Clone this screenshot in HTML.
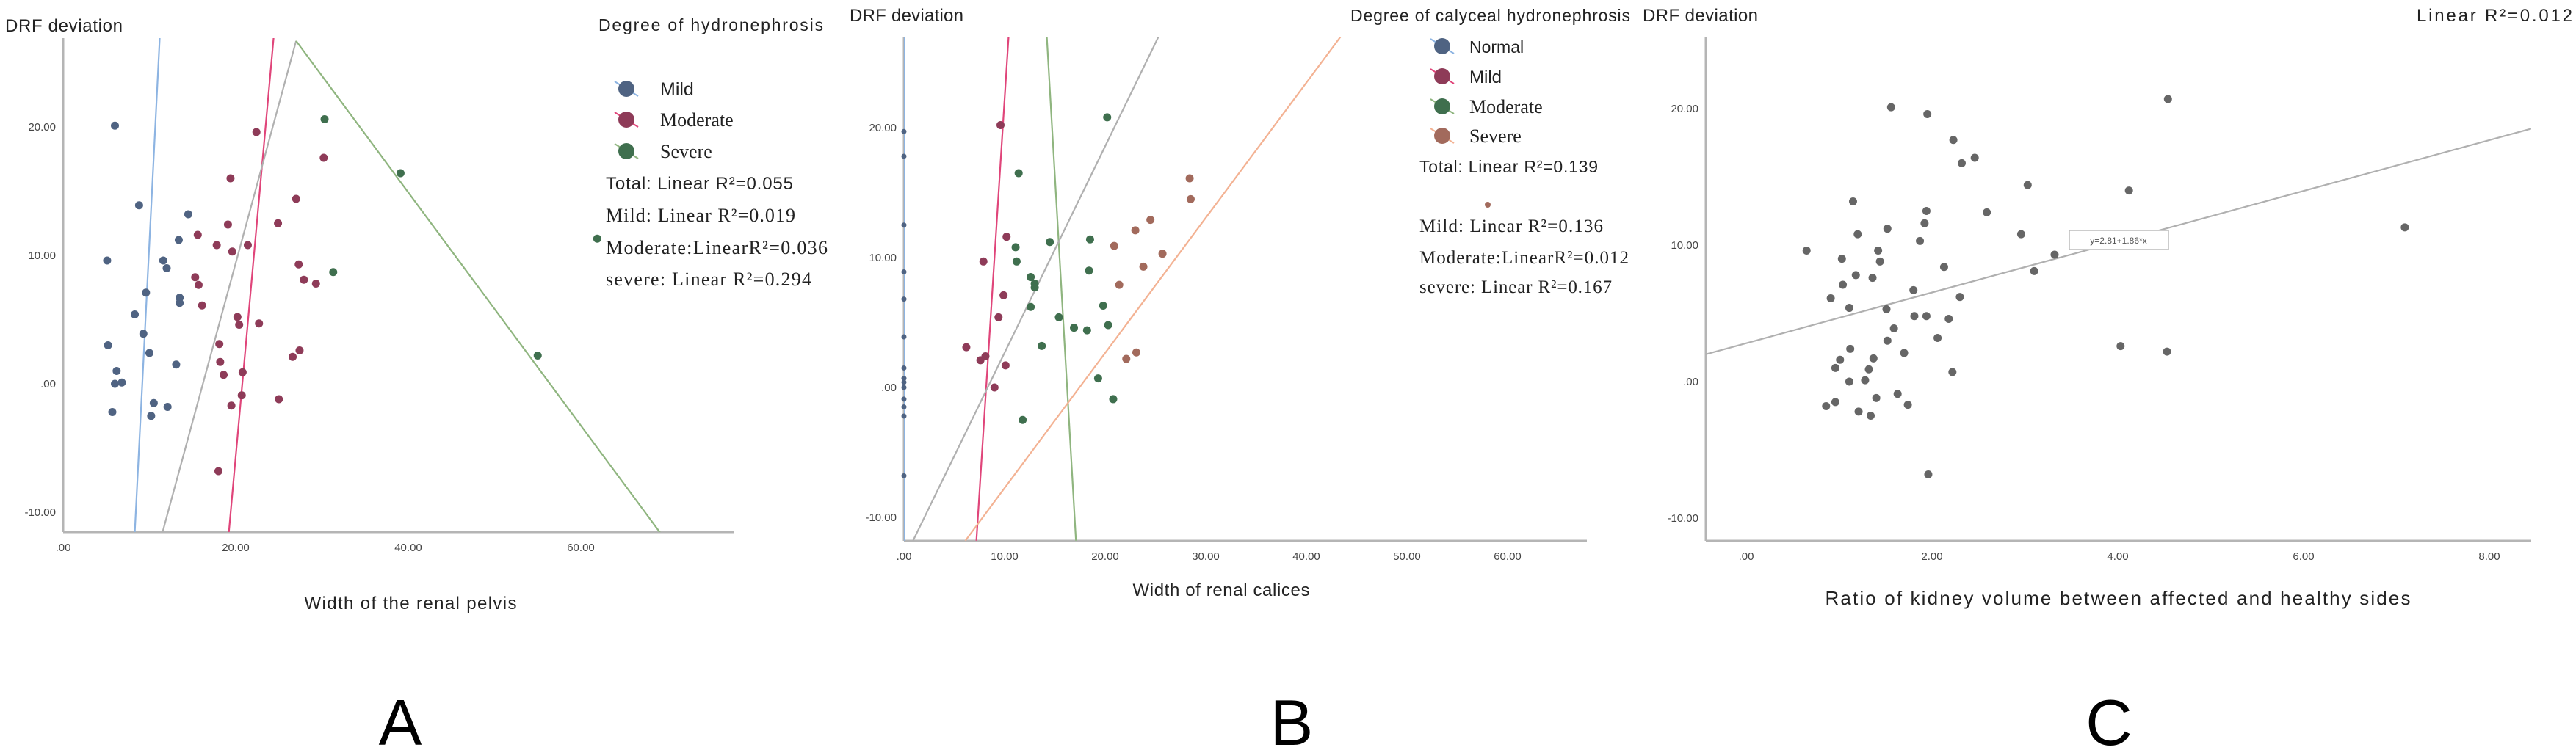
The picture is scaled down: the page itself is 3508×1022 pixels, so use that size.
<!DOCTYPE html>
<html><head><meta charset="utf-8"><style>
html,body{margin:0;padding:0;background:#fff;}
svg{display:block;font-family:"Liberation Sans",sans-serif;}
</style></head><body>
<svg id="fig" width="3508" height="1022" viewBox="0 0 3508 1022" xmlns="http://www.w3.org/2000/svg">
<defs>
<clipPath id="clipA"><rect x="86" y="52" width="913" height="673"/></clipPath>
<clipPath id="clipB"><rect x="1231" y="51" width="930" height="686"/></clipPath>
<clipPath id="clipC"><rect x="2323" y="51" width="1124" height="686"/></clipPath>
</defs>
<g id="panelA"></g>
<g id="panelB"></g>
<g id="panelC"></g>
</svg>
<script>
// ---------- Panel A data ----------
const aMildX = [6.0,8.8,14.5,13.4,5.1,11.6,12.0,9.6,13.5,13.5,8.3,9.3,5.2,10.0,13.1,6.2,6.0,6.8,10.5,12.1,5.7,10.2];
const aMildY = [20.1,13.9,13.2,11.2,9.6,9.6,9.0,7.1,6.7,6.3,5.4,3.9,3.0,2.4,1.5,1.0,0,0.1,-1.5,-1.8,-2.2,-2.5];
const aModX = [22.4,30.2,19.4,27.0,19.1,24.9,15.6,17.8,21.4,19.6,27.3,15.3,15.7,27.9,29.3,16.1,20.2,20.4,22.7,18.1,27.4,26.6,18.2,18.6,20.8,20.7,25.0,19.5,18.0];
const aModY = [19.6,17.6,16.0,14.4,12.4,12.5,11.6,10.8,10.8,10.3,9.3,8.3,7.7,8.1,7.8,6.1,5.2,4.6,4.7,3.1,2.6,2.1,1.7,0.7,0.9,-0.9,-1.2,-1.7,-6.8];
const aSevX = [30.3,39.1,61.9,31.3,55.0];
const aSevY = [20.6,16.4,11.3,8.7,2.2];
// fit lines: [x1,y1,x2,y2] in data units
const aLineMild = [8.3,-11.6,11.2,27.0];
const aLineMod = [19.2,-11.6,24.4,27.0];
const aLineTotal = [11.5,-11.6,27.0,26.7];
const aLineSev = [27.0,26.7,69.2,-11.6];
const aXTicks = [0,20,40,60];
const aXTickLabels = [".00","20.00","40.00","60.00"];
const aYTicks = [20,10,0,-10];
const aYTickLabels = ["20.00","10.00",".00","-10.00"];

// ---------- Panel B data ----------
const bNormX = [0,0,0,0,0,0,0,0,0,0,0,0,0,0];
const bNormY = [19.7,17.8,12.5,8.9,6.8,3.9,1.5,0.7,0.4,0,-0.9,-1.5,-2.2,-6.8];
const bMildX = [9.6,10.2,7.9,9.9,9.4,6.2,7.6,8.1,10.1,9.0];
const bMildY = [20.2,11.6,9.7,7.1,5.4,3.1,2.1,2.4,1.7,0];
const bModX = [20.2,11.4,11.1,14.5,18.5,11.2,12.6,13.0,13.0,18.4,12.6,19.8,15.4,16.9,18.2,20.3,13.7,19.3,20.8,11.8];
const bModY = [20.8,16.5,10.8,11.2,11.4,9.7,8.5,8.0,7.7,9.0,6.2,6.3,5.4,4.6,4.4,4.8,3.2,0.7,-0.9,-2.5];
const bSevX = [28.4,28.5,24.5,23.0,25.7,20.9,23.8,21.4,23.1,22.1];
const bSevY = [16.1,14.5,12.9,12.1,10.3,10.9,9.3,7.9,2.7,2.2];
const bLineNorm = [0,-11.8,0,27.0];
const bLineMild = [7.2,-11.8,10.4,27.0];
const bLineMod = [14.2,27.0,17.1,-11.8];
const bLineTotal = [0.9,-11.8,25.3,27.0];
const bLineSev = [6.1,-11.8,43.4,27.0];
const bXTicks = [0,10,20,30,40,50,60];
const bXTickLabels = [".00","10.00","20.00","30.00","40.00","50.00","60.00"];
const bYTicks = [20,10,0,-10];
const bYTickLabels = ["20.00","10.00",".00","-10.00"];

// ---------- Panel C data ----------
const cX = [0.65,1.03,0.91,1.04,1.15,1.2,1.18,1.11,1.42,1.44,1.36,1.52,1.51,1.12,1.01,0.96,1.11,1.28,1.32,1.37,1.52,1.59,1.70,1.80,1.81,1.87,1.92,1.94,1.94,1.56,1.95,2.23,2.46,2.32,2.13,2.30,2.18,2.06,2.22,2.59,3.03,2.96,3.10,3.32,1.63,1.74,1.40,1.21,1.34,0.86,0.96,1.96,4.12,4.54,4.03,4.53,7.09];
const cY = [9.6,9.0,6.1,7.1,13.2,10.8,7.8,5.4,9.6,8.8,7.6,11.2,5.3,2.4,1.6,1.0,0,0.1,0.9,1.7,3.0,3.9,2.1,6.7,4.8,10.3,11.6,12.5,4.8,20.1,19.6,17.7,16.4,16.0,8.4,6.2,4.6,3.2,0.7,12.4,14.4,10.8,8.1,9.3,-0.9,-1.7,-1.2,-2.2,-2.5,-1.8,-1.5,-6.8,14.0,20.7,2.6,2.2,11.3];
const cFit = [2.81,1.86]; // intercept, slope
const cFitRange = [-0.45,8.45];
const cXTicks = [0,2,4,6,8];
const cXTickLabels = [".00","2.00","4.00","6.00","8.00"];
const cYTicks = [20,10,0,-10];
const cYTickLabels = ["20.00","10.00",".00","-10.00"];

const NS = "http://www.w3.org/2000/svg";
function mk(tag, attrs, parent, text){
  const e = document.createElementNS(NS, tag);
  for (const k in attrs) e.setAttribute(k, attrs[k]);
  if (text !== undefined) e.textContent = text;
  parent.appendChild(e);
  return e;
}
function lin(d0,d1,r0,r1){ return v => r0 + (v-d0)*(r1-r0)/(d1-d0); }

function axes(g, P, xT, xTL, yT, yTL){
  const ya = mk('line',{x1:P.left,y1:P.top,x2:P.left,y2:P.bottom,stroke:'#b5b5b5','stroke-width':3},g);
  
  
  const xa = mk('line',{x1:P.left,y1:P.bottom,x2:P.right,y2:P.bottom,stroke:'#b5b5b5','stroke-width':3},g);
  
  
  xT.forEach((v,i)=>{
    const t = mk('text',{x:P.sx(v),y:P.bottom+26,'text-anchor':'middle','font-size':15,fill:'#444'},g,xTL[i]);
    
    
  });
  yT.forEach((v,i)=>{
    const t = mk('text',{x:P.left-10,y:P.sy(v)+5,'text-anchor':'end','font-size':15,fill:'#444'},g,yTL[i]);
    
    
  });
}
function pts(g, P, xs, ys, color, name, r){
  xs.forEach((v,i)=>{
    const c = mk('circle',{cx:P.sx(v),cy:P.sy(ys[i]),r:r||5.5,fill:color},g);
    
    
  });
}
function fitLine(g, P, seg, color, name, clip){
  const l = mk('line',{x1:P.sx(seg[0]),y1:P.sy(seg[1]),x2:P.sx(seg[2]),y2:P.sy(seg[3]),stroke:color,'stroke-width':2.2,'clip-path':clip},g);
  
  
}
function txt(g, attrs, s, name){
  const t = mk('text',attrs,g,s);
  
  
  return t;
}
function legendMarker(g, x, y, color, lineColor){
  const l = mk('line',{x1:x-16,y1:y-10,x2:x+16,y2:y+10,stroke:lineColor,'stroke-width':2},g);
  
  
  const c = mk('circle',{cx:x,cy:y,r:11,fill:color},g);
  
  
}

// ---------- Panel A ----------
(function(){
  const g = document.getElementById('panelA');
  const P = {left:86,right:999,top:52,bottom:725,sx:lin(0,20,86,321),sy:lin(0,10,523,348)};
  axes(g,P,aXTicks,aXTickLabels,aYTicks,aYTickLabels);
  fitLine(g,P,aLineMild,'#8db4e2','fit-line-mild','url(#clipA)');
  fitLine(g,P,aLineMod,'#e0457a','fit-line-moderate','url(#clipA)');
  fitLine(g,P,aLineTotal,'#b0b0b0','fit-line-total','url(#clipA)');
  fitLine(g,P,aLineSev,'#8fb57f','fit-line-severe','url(#clipA)');
  pts(g,P,aMildX,aMildY,'#4f6382','point-mild');
  pts(g,P,aModX,aModY,'#8e3b58','point-moderate');
  pts(g,P,aSevX,aSevY,'#3f6f4e','point-severe');
  txt(g,{x:7,y:43,'font-size':24,fill:'#222',textLength:160},'DRF deviation','y-axis-title');
  txt(g,{x:559,y:830,'font-size':24,'text-anchor':'middle',fill:'#222',textLength:289},'Width of the renal pelvis','x-axis-title');
  txt(g,{x:815,y:42,'font-size':23,fill:'#222',textLength:306},'Degree of hydronephrosis','legend-title');
  legendMarker(g,853,121,'#4f6382','#8db4e2');
  legendMarker(g,853,163,'#8e3b58','#e0457a');
  legendMarker(g,853,206,'#3f6f4e','#8fb57f');
  const sf = '"Liberation Serif",serif';
  txt(g,{x:899,y:130,'font-size':25,'font-family':'"Liberation Sans",sans-serif',fill:'#222'},'Mild','legend-entry-mild');
  txt(g,{x:899,y:172,'font-size':26,'font-family':sf,fill:'#222'},'Moderate','legend-entry-moderate');
  txt(g,{x:899,y:215,'font-size':26,'font-family':sf,fill:'#222'},'Severe','legend-entry-severe');
  txt(g,{x:825,y:258,'font-size':24,fill:'#222',textLength:255},'Total: Linear R²=0.055','stat-total');
  txt(g,{x:825,y:302,'font-size':26,'font-family':sf,fill:'#222',textLength:258},'Mild: Linear R²=0.019','stat-mild');
  txt(g,{x:825,y:346,'font-size':26,'font-family':sf,fill:'#222',textLength:302},'Moderate:LinearR²=0.036','stat-moderate');
  txt(g,{x:825,y:389,'font-size':26,'font-family':sf,fill:'#222',textLength:280},'severe: Linear R²=0.294','stat-severe');
  txt(g,{x:545,y:1015,'font-size':88,'text-anchor':'middle',fill:'#000'},'A','panel-label-a');
})();

// ---------- Panel B ----------
(function(){
  const g = document.getElementById('panelB');
  const P = {left:1231,right:2161,top:51,bottom:737,sx:lin(0,10,1231,1368),sy:lin(0,10,528,351)};
  axes(g,P,bXTicks,bXTickLabels,bYTicks,bYTickLabels);
  fitLine(g,P,bLineNorm,'#8db4e2','fit-line-normal','url(#clipB)');
  fitLine(g,P,bLineMild,'#e0457a','fit-line-mild','url(#clipB)');
  fitLine(g,P,bLineMod,'#8fb57f','fit-line-moderate','url(#clipB)');
  fitLine(g,P,bLineTotal,'#b0b0b0','fit-line-total','url(#clipB)');
  fitLine(g,P,bLineSev,'#f3b293','fit-line-severe','url(#clipB)');
  pts(g,P,bNormX,bNormY,'#4f6382','point-normal',3.5);
  pts(g,P,bMildX,bMildY,'#8e3b58','point-mild');
  pts(g,P,bModX,bModY,'#3f6f4e','point-moderate');
  pts(g,P,bSevX,bSevY,'#a26a5c','point-severe');
  txt(g,{x:1157,y:29,'font-size':24,fill:'#222',textLength:155},'DRF deviation','y-axis-title');
  txt(g,{x:1663,y:812,'font-size':24,'text-anchor':'middle',fill:'#222',textLength:241},'Width of renal calices','x-axis-title');
  txt(g,{x:1839,y:29,'font-size':23,fill:'#222',textLength:381},'Degree of calyceal hydronephrosis','legend-title');
  legendMarker(g,1964,63,'#4f6382','#8db4e2');
  legendMarker(g,1964,104,'#8e3b58','#e0457a');
  legendMarker(g,1964,145,'#3f6f4e','#8fb57f');
  legendMarker(g,1964,185,'#a26a5c','#f3b293');
  const sf = '"Liberation Serif",serif';
  txt(g,{x:2001,y:72,'font-size':23,fill:'#222'},'Normal','legend-entry-normal');
  txt(g,{x:2001,y:113,'font-size':24,fill:'#222'},'Mild','legend-entry-mild');
  txt(g,{x:2001,y:154,'font-size':26,'font-family':sf,fill:'#222'},'Moderate','legend-entry-moderate');
  txt(g,{x:2001,y:194,'font-size':26,'font-family':sf,fill:'#222'},'Severe','legend-entry-severe');
  txt(g,{x:1933,y:235,'font-size':23,fill:'#222',textLength:243},'Total: Linear R²=0.139','stat-total');
  const d = mk('circle',{cx:2026,cy:279,r:4,fill:'#a26a5c'},g);
  
  
  txt(g,{x:1933,y:316,'font-size':25,'font-family':sf,fill:'#222',textLength:250},'Mild: Linear R²=0.136','stat-mild');
  txt(g,{x:1933,y:359,'font-size':25,'font-family':sf,fill:'#222',textLength:285},'Moderate:LinearR²=0.012','stat-moderate');
  txt(g,{x:1933,y:399,'font-size':25,'font-family':sf,fill:'#222',textLength:262},'severe: Linear R²=0.167','stat-severe');
  txt(g,{x:1759,y:1015,'font-size':88,'text-anchor':'middle',fill:'#000'},'B','panel-label-b');
})();

// ---------- Panel C ----------
(function(){
  const g = document.getElementById('panelC');
  const P = {left:2323,right:3447,top:51,bottom:737,sx:lin(0,2,2378,2631),sy:lin(0,10,520,334)};
  axes(g,P,cXTicks,cXTickLabels,cYTicks,cYTickLabels);
  const seg = [cFitRange[0],cFit[0]+cFit[1]*cFitRange[0],cFitRange[1],cFit[0]+cFit[1]*cFitRange[1]];
  fitLine(g,P,seg,'#b0b0b0','fit-line-total','url(#clipC)');
  pts(g,P,cX,cY,'#666666','point');
  const b = mk('rect',{x:2818,y:314,width:135,height:26,fill:'#fff',stroke:'#bbb','stroke-width':1.5},g);
  
  
  txt(g,{x:2885,y:332,'font-size':12,'text-anchor':'middle',fill:'#555'},'y=2.81+1.86*x','fit-equation');
  txt(g,{x:2237,y:29,'font-size':24,fill:'#222',textLength:157},'DRF deviation','y-axis-title');
  txt(g,{x:3503,y:29,'font-size':24,'text-anchor':'end',fill:'#222',textLength:212},'Linear R²=0.012','r-squared-label');
  txt(g,{x:2884,y:824,'font-size':26,'text-anchor':'middle',fill:'#222',textLength:797},'Ratio of kidney volume between affected and healthy sides','x-axis-title');
  txt(g,{x:2872,y:1015,'font-size':88,'text-anchor':'middle',fill:'#000'},'C','panel-label-c');
})();
</script>
</body></html>
